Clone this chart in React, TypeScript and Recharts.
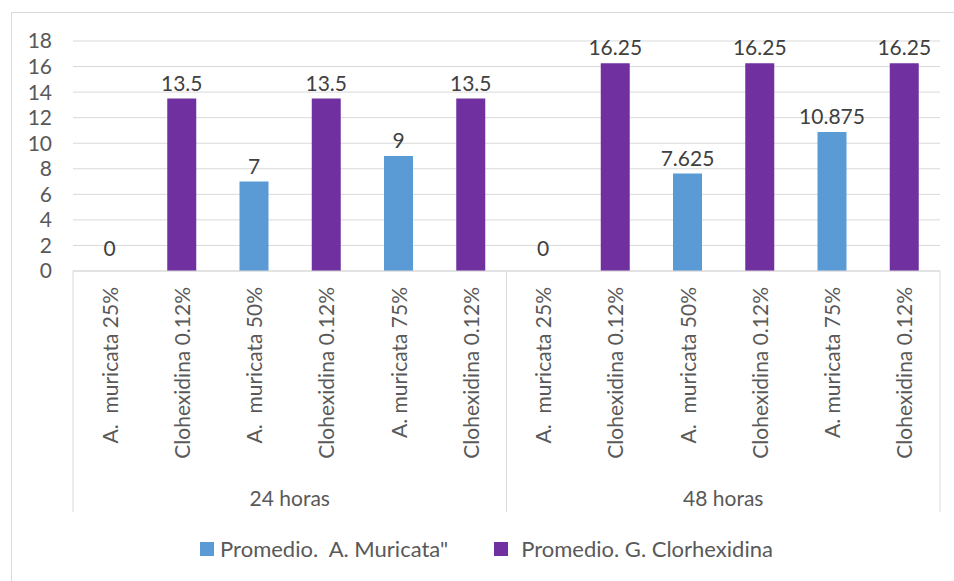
import { BarChart, Bar, XAxis, YAxis, CartesianGrid, Legend, LabelList, Cell } from 'recharts'

const categoryLabels = [
  'A.  muricata 25%',
  'Clohexidina 0.12%',
  'A.  muricata 50%',
  'Clohexidina 0.12%',
  'A. muricata 75%',
  'Clohexidina 0.12%',
  'A.  muricata 25%',
  'Clohexidina 0.12%',
  'A.  muricata 50%',
  'Clohexidina 0.12%',
  'A. muricata 75%',
  'Clohexidina 0.12%'
]
const groupLabels = ['24 horas', '48 horas']
const muricataValues = [0, null, 7, null, 9, null, 0, null, 7.625, null, 10.875, null]
const clorhexidinaValues = [null, 13.5, null, 13.5, null, 13.5, null, 16.25, null, 16.25, null, 16.25]
const yTicks = [0, 2, 4, 6, 8, 10, 12, 14, 16, 18]

const data = categoryLabels.map((label, i) => ({
  key: `c${i}`,
  label,
  muricata: muricataValues[i],
  clorhexidina: clorhexidinaValues[i]
}))

const FONT = 'Lato, "Open Sans", sans-serif'
const GRID = '#d9d9d9'
const TEXT = '#595959'
const LABEL = '#404040'
const BLUE = '#5b9bd5'
const PURPLE = '#7030a0'
const GROUP_SIZE = 6
const LEGEND_H = 27

function CategoryTick(props: any) {
  const { x, y, payload, index } = props
  const band = payload && payload.offset ? payload.offset * 2 : 72.25
  const left = x - band / 2
  return (
    <g>
      <text
        transform={`translate(${x},${y + 16}) rotate(-90)`}
        textAnchor="end"
        dominantBaseline="central"
        fill={TEXT}
        fontSize={21}
        fontFamily={FONT}
        style={{ whiteSpace: 'pre' }}
      >
        {categoryLabels[index]}
      </text>
      {index % GROUP_SIZE === 0 && (
        <>
          <line x1={left} x2={left} y1={y} y2={y + 241} stroke={GRID} />
          <text
            x={left + (band * GROUP_SIZE) / 2}
            y={y + 226}
            textAnchor="middle"
            dominantBaseline="central"
            fill={TEXT}
            fontSize={21}
            fontFamily={FONT}
          >
            {groupLabels[index / GROUP_SIZE]}
          </text>
        </>
      )}
      {index === categoryLabels.length - 1 && (
        <line x1={x + band / 2} x2={x + band / 2} y1={y} y2={y + 241} stroke={GRID} />
      )}
    </g>
  )
}

function ValueLabel(props: any) {
  const { x, y, width, value } = props
  if (value === null || value === undefined) return null
  // Excel lifts the label of an empty bar a little higher
  const lift = Number(value) === 0 ? 15 : 8
  return (
    <text
      x={x + width / 2}
      y={y - lift}
      textAnchor="middle"
      fill={LABEL}
      fontSize={21}
      fontFamily={FONT}
    >
      {value}
    </text>
  )
}

function LegendContent(props: any) {
  const { payload } = props
  return (
    <div
      style={{
        display: 'flex',
        justifyContent: 'center',
        alignItems: 'center',
        height: LEGEND_H,
        paddingLeft: 33,
        fontFamily: FONT,
        fontSize: 22,
        color: TEXT
      }}
    >
      {payload.map((p: any, i: number) => (
        <div key={p.value} style={{ display: 'flex', alignItems: 'center', marginLeft: i === 0 ? 0 : 46 }}>
          <span
            style={{
              width: 14,
              height: 14,
              background: p.color,
              marginRight: i === 0 ? 6 : 13,
              display: 'inline-block'
            }}
          />
          <span style={{ whiteSpace: 'pre' }}>{p.value}</span>
        </div>
      ))}
    </div>
  )
}

export default function App() {
  return (
    <div style={{ position: 'absolute', left: 0, top: 0, width: 954, height: 581, background: '#fff', overflow: 'hidden' }}>
      <div
        style={{
          position: 'absolute',
          left: 11,
          top: 12,
          width: 1000,
          height: 1000,
          borderLeft: `1px solid ${GRID}`,
          borderTop: `1px solid ${GRID}`
        }}
      />
      <div style={{ position: 'absolute', left: 0, top: 0 }}>
        <BarChart
          width={954}
          height={581}
          data={data}
          margin={{ top: 41, right: 14, left: 0, bottom: 69 - LEGEND_H }}
        >
          <CartesianGrid vertical={false} stroke={GRID} />
          <XAxis
            xAxisId="a"
            dataKey="key"
            interval={0}
            height={241}
            tickSize={0}
            tickMargin={0}
            tickLine={false}
            axisLine={{ stroke: GRID }}
            tick={<CategoryTick />}
          />
          <XAxis xAxisId="g" dataKey="key" hide />
          <YAxis
            width={73}
            domain={[0, 18]}
            ticks={yTicks}
            interval={0}
            axisLine={false}
            tickLine={false}
            tickMargin={15}
            tick={{ fill: TEXT, fontSize: 21, fontFamily: FONT }}
          />
          <Legend
            verticalAlign="bottom"
            height={LEGEND_H}
            wrapperStyle={{ bottom: 19 }}
            content={<LegendContent />}
          />
          <Bar
            xAxisId="a"
            dataKey="muricata"
            name={'Promedio.  A. Muricata"'}
            fill={BLUE}
            barSize={29}
            minPointSize={(v: any) => (v === 0 ? 0.5 : 0)}
            isAnimationActive={false}
          >
            {muricataValues.map((v, i) => (
              <Cell key={i} fill={BLUE} fillOpacity={v === 0 ? 0 : 1} />
            ))}
            <LabelList dataKey="muricata" content={<ValueLabel />} />
          </Bar>
          <Bar
            xAxisId="g"
            dataKey="clorhexidina"
            name="Promedio. G. Clorhexidina"
            fill={PURPLE}
            barSize={29}
            isAnimationActive={false}
          >
            <LabelList dataKey="clorhexidina" content={<ValueLabel />} />
          </Bar>
        </BarChart>
      </div>
    </div>
  )
}
